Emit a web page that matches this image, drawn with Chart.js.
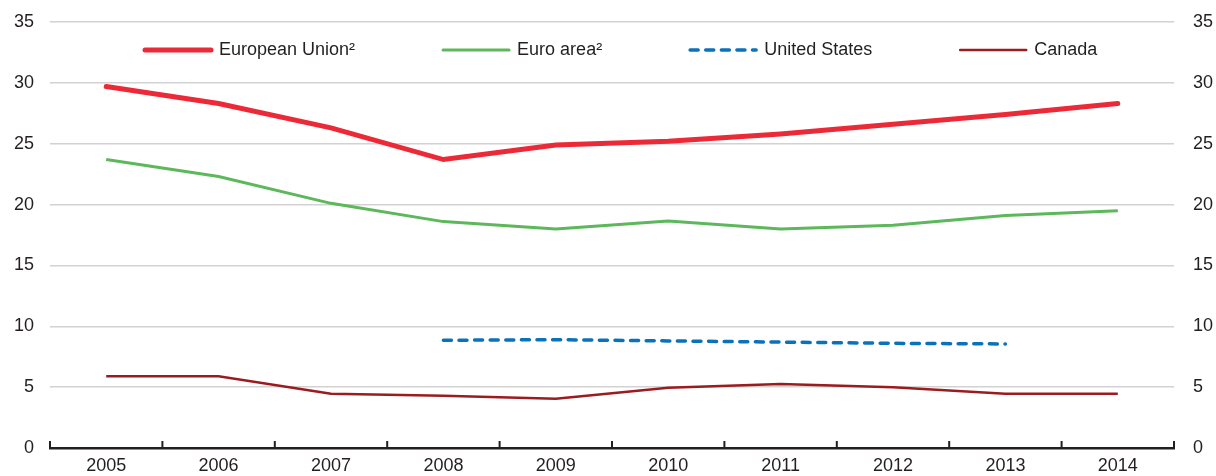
<!DOCTYPE html>
<html>
<head>
<meta charset="utf-8">
<script src="https://cdn.jsdelivr.net/npm/chart.js@4.4.1/dist/chart.umd.min.js"></script>
<style>
  html, body { margin: 0; padding: 0; background: #fff; }
  #wrap { position: relative; width: 1216px; height: 476px; }
</style>
</head>
<body>
<div id="wrap"><canvas id="chart"></canvas></div>
<script>
// Data
const years = ['2005', '2006', '2007', '2008', '2009', '2010', '2011', '2012', '2013', '2014'];
const europeanUnion = [29.7, 28.3, 26.3, 23.7, 24.9, 25.2, 25.8, 26.6, 27.4, 28.3];
const euroArea = [23.7, 22.3, 20.1, 18.6, 18.0, 18.65, 18.0, 18.3, 19.1, 19.5];
const unitedStates = [null, null, null, 8.85, 8.9, 8.8, 8.7, 8.6, 8.55, null];
const canada = [5.9, 5.9, 4.45, 4.3, 4.05, 4.95, 5.25, 5.0, 4.45, 4.45];
const seriesNames = ['European Union²', 'Euro area²', 'United States', 'Canada'];

const FONT = "'Liberation Sans', Arial, sans-serif";
const FONT_SIZE = 18;
const TEXT = '#231f20';

Chart.defaults.font.family = FONT;
Chart.defaults.font.size = FONT_SIZE;
Chart.defaults.color = TEXT;

// legend drawn inside the plot area, one row
const lineLegend = {
  id: 'lineLegend',
  afterDatasetsDraw(chart) {
    const ctx = chart.ctx;
    const area = chart.chartArea;
    const boxW = 70, textGap = 6, itemGap = 86;
    const y = area.top + 28;
    ctx.save();
    ctx.font = FONT_SIZE + 'px ' + FONT;
    ctx.textBaseline = 'middle';
    let x = area.left + 93;
    chart.data.datasets.forEach(ds => {
      ctx.strokeStyle = ds.borderColor;
      ctx.lineWidth = ds.borderWidth;
      ctx.lineCap = 'round';
      ctx.setLineDash(ds.borderDash || []);
      ctx.beginPath();
      ctx.moveTo(x + 2, y);
      ctx.lineTo(x + boxW - 2, y);
      ctx.stroke();
      ctx.setLineDash([]);
      ctx.fillStyle = TEXT;
      ctx.fillText(ds.label, x + boxW + textGap, y);
      x += boxW + textGap + ctx.measureText(ds.label).width + itemGap;
    });
    ctx.restore();
  }
};

// small upward tick marks between categories on the x axis
const innerTicks = {
  id: 'innerTicks',
  afterDraw(chart) {
    const xs = chart.scales.x;
    const ctx = chart.ctx;
    const n = chart.data.labels.length;
    const step = xs.width / n;
    ctx.save();
    ctx.strokeStyle = TEXT;
    ctx.lineWidth = 2;
    ctx.beginPath();
    for (let i = 0; i <= n; i++) {
      const px = xs.left + i * step;
      ctx.moveTo(px, xs.top);
      ctx.lineTo(px, xs.top - 7);
    }
    ctx.stroke();
    ctx.restore();
  }
};

// fixed axis widths; drop the label overhang padding so layout.padding rules
const fixY = w => s => { s.width = w; s.paddingTop = 0; s.paddingBottom = 0; };

new Chart(document.getElementById('chart'), {
  type: 'line',
  data: {
    labels: years,
    datasets: [
      {
        label: seriesNames[0],
        data: europeanUnion,
        borderColor: '#ec2a37',
        borderWidth: 5,
        borderCapStyle: 'round'
      },
      {
        label: seriesNames[1],
        data: euroArea,
        borderColor: '#5cb85a',
        borderWidth: 3
      },
      {
        label: seriesNames[2],
        data: unitedStates,
        borderColor: '#0a72ba',
        borderWidth: 3.5,
        borderDash: [8, 7.6],
        borderCapStyle: 'round'
      },
      {
        label: seriesNames[3],
        data: canada,
        borderColor: '#9b1c1f',
        borderWidth: 2.5
      }
    ]
  },
  options: {
    responsive: true,
    maintainAspectRatio: false,
    animation: false,
    layout: { padding: { top: 22, left: 0, right: 0, bottom: 0 } },
    elements: {
      point: { radius: 0, hoverRadius: 0 },
      line: { tension: 0, fill: false }
    },
    plugins: {
      legend: { display: false },
      tooltip: { enabled: false }
    },
    scales: {
      x: {
        offset: true,
        grid: { display: false, drawTicks: false },
        border: { display: true, color: TEXT, width: 2.5 },
        ticks: { padding: 7, maxRotation: 0, autoSkip: false },
        afterFit: s => { s.height = 28; }
      },
      y: {
        position: 'left',
        min: 0,
        max: 35,
        ticks: { stepSize: 5, padding: 16 },
        grid: { color: '#d2d2d2', lineWidth: 1.5, drawTicks: false },
        border: { display: false },
        afterFit: fixY(50)
      },
      y2: {
        position: 'right',
        min: 0,
        max: 35,
        ticks: { stepSize: 5, padding: 19 },
        grid: { display: false, drawTicks: false },
        border: { display: false },
        afterFit: fixY(42)
      }
    }
  },
  plugins: [lineLegend, innerTicks]
});
</script>
</body>
</html>
